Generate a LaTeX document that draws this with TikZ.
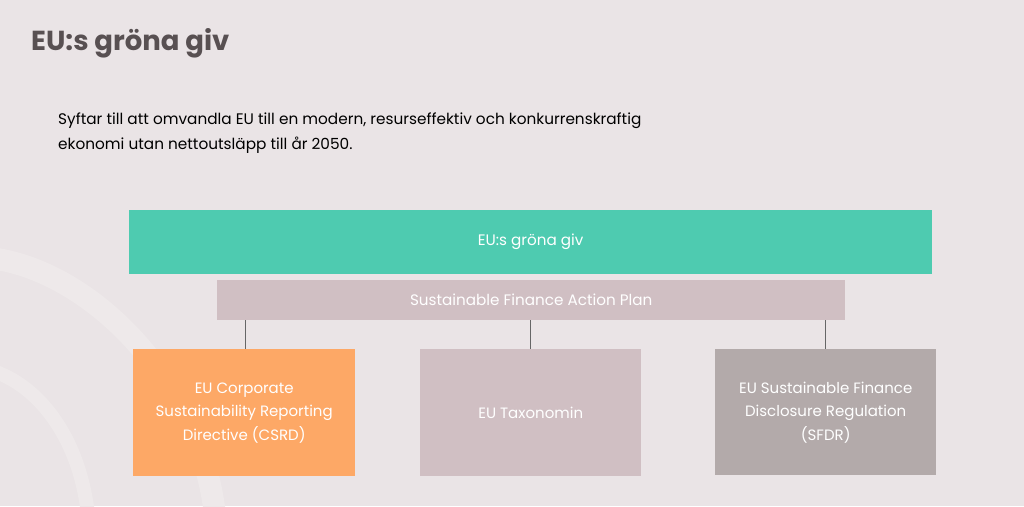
\documentclass[tikz,border=0pt]{standalone}
\usepackage{fontspec}
\setmainfont{Poppins}
\begin{document}
\begin{tikzpicture}[x=1pt,y=-1pt,
  bar/.style={draw=none,inner sep=0pt,anchor=north west,text=white,font=\fontsize{15.2}{18}\selectfont},
  box/.style={draw=none,inner sep=0pt,anchor=north west,text=white,align=center,font=\fontsize{15}{23.5}\selectfont},
  link/.style={draw=gray!80!black,line width=0.6pt}]
\definecolor{bgc}{HTML}{EAE4E6}
\definecolor{arcc}{HTML}{EEE9EA}
\definecolor{greenc}{HTML}{4ECBB0}
\definecolor{rosec}{HTML}{D0BFC3}
\definecolor{orangec}{HTML}{FDA866}
\definecolor{greyc}{HTML}{B3AAAA}
\definecolor{titlec}{HTML}{585052}
\fill[bgc] (0,0) rectangle (1024,506);
\useasboundingbox (0,0) rectangle (1024,506);
% decorative arcs
\draw[arcc,line width=22pt] (-10,258) .. controls (90,270) and (200,380) .. (215,515);
\draw[arcc,line width=14pt] (-10,370) .. controls (40,385) and (80,440) .. (88,515);
\node[anchor=base west,inner sep=0pt,text=titlec,font=\fontsize{27.5}{30}\selectfont\bfseries] (title) at (31,50) {EU:s gröna giv};
\node[anchor=base west,inner sep=0pt,text=black,font=\fontsize{15.3}{25}\selectfont] (intro1) at (58,124) {Syftar till att omvandla EU till en modern, resurseffektiv och konkurrenskraftig};
\node[anchor=base west,inner sep=0pt,text=black,font=\fontsize{15.3}{25}\selectfont] (intro2) at (58,149) {ekonomi utan nettoutsläpp till år 2050.};
\node[bar,fill=greenc,minimum width=803pt,minimum height=64pt] (deal) at (129,210) {EU:s gröna giv};
\node[bar,fill=rosec,minimum width=628pt,minimum height=40pt] (sfap) at (217,280) {Sustainable Finance Action Plan};
\node[box,fill=orangec,minimum width=222pt,minimum height=127pt] (csrd) at (133,349) {EU Corporate\\Sustainability Reporting\\Directive (CSRD)};
\node[box,fill=rosec,minimum width=221pt,minimum height=127pt] (tax) at (420,349) {EU Taxonomin};
\node[box,fill=greyc,minimum width=221pt,minimum height=126pt] (sfdr) at (715,349) {EU Sustainable Finance\\Disclosure Regulation\\(SFDR)};
\draw[link] (sfap.south -| 245,0) -- (csrd.north -| 245,0);
\draw[link] (sfap.south -| tax.north) -- (tax.north);
\draw[link] (sfap.south -| 825,0) -- (sfdr.north -| 825,0);
\end{tikzpicture}
\end{document}
